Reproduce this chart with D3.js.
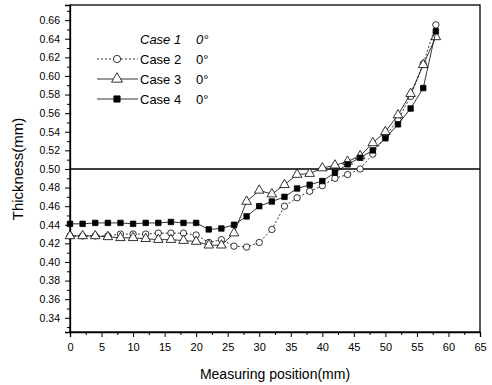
<!DOCTYPE html>
<html>
<head>
<meta charset="utf-8">
<script src="https://cdn.jsdelivr.net/npm/d3@7.9.0/dist/d3.min.js"></script>
<style>
  body { margin: 0; background: #fff; }
  svg { font-family: Arial, "Liberation Sans", sans-serif; }
</style>
</head>
<body>
<svg id="chart" width="492" height="385"></svg>
<script>
// measuring positions (mm)
const positions = d3.range(0, 59, 2);

// thickness (mm)
const case1 = 0.50;
const case2 = [0.428, 0.428, 0.428, 0.428, 0.430, 0.430, 0.430, 0.431, 0.431, 0.431,
               0.429, 0.421, 0.424, 0.417, 0.416, 0.421, 0.435, 0.460, 0.469, 0.476,
               0.482, 0.490, 0.494, 0.500, 0.516, 0.535, 0.553, 0.578, 0.613, 0.655];
const case3 = [0.428, 0.428, 0.428, 0.427, 0.426, 0.426, 0.425, 0.424, 0.424, 0.423,
               0.422, 0.418, 0.418, 0.431, 0.465, 0.477, 0.473, 0.483, 0.494, 0.495,
               0.501, 0.504, 0.508, 0.514, 0.528, 0.540, 0.558, 0.581, 0.612, 0.642];
const case4 = [0.441, 0.441, 0.442, 0.442, 0.442, 0.441, 0.442, 0.442, 0.443, 0.442,
               0.442, 0.435, 0.436, 0.440, 0.449, 0.460, 0.465, 0.470, 0.479, 0.483,
               0.487, 0.496, 0.505, 0.512, 0.520, 0.533, 0.548, 0.565, 0.587, 0.648];

const xTicks = d3.range(0, 66, 5);
const yTicks = d3.range(0.34, 0.661, 0.02);

const margin = { top: 5, right: 12, bottom: 53, left: 70 };
const width = 492, height = 385;

const svg = d3.select('#chart');

const x = d3.scaleLinear()
  .domain([0, 65])
  .range([margin.left, width - margin.right]);

const y = d3.scaleLinear()
  .domain([0.3247, 0.6763])
  .range([height - margin.bottom, margin.top]);

// frame
svg.append('rect')
  .attr('x', x(0)).attr('y', y.range()[1])
  .attr('width', x(65) - x(0))
  .attr('height', y.range()[0] - y.range()[1])
  .attr('fill', 'none').attr('stroke', '#000').attr('stroke-width', 1.3);

// x axis
svg.append('g')
  .attr('transform', `translate(0,${y.range()[0]})`)
  .call(d3.axisBottom(x).tickValues(d3.range(2.5, 65, 5)).tickSize(3).tickFormat(''))
  .call(g => g.select('.domain').remove());
svg.append('g')
  .attr('transform', `translate(0,${y.range()[0]})`)
  .call(d3.axisBottom(x).tickValues(xTicks).tickSize(5).tickPadding(6))
  .call(g => g.select('.domain').attr('stroke-width', 1.3))
  .call(g => g.selectAll('text').attr('font-size', 11).attr('fill', '#000'));

// y axis
svg.append('g')
  .attr('transform', `translate(${x(0)},0)`)
  .call(d3.axisLeft(y).tickValues(d3.range(0.33, 0.671, 0.02)).tickSize(3).tickFormat(''))
  .call(g => g.select('.domain').remove());
svg.append('g')
  .attr('transform', `translate(${x(0)},0)`)
  .call(d3.axisLeft(y).tickValues(yTicks).tickSize(5).tickPadding(5).tickFormat(d3.format('.2f')))
  .call(g => g.select('.domain').attr('stroke-width', 1.3))
  .call(g => g.selectAll('text').attr('font-size', 10.5).attr('fill', '#000'));

// axis titles
svg.append('text')
  .attr('x', x(32.5)).attr('y', 379)
  .attr('text-anchor', 'middle')
  .attr('font-size', 14)
  .text('Measuring position(mm)');

svg.append('text')
  .attr('transform', `translate(23,${y(0.50)}) rotate(-90)`)
  .attr('text-anchor', 'middle')
  .attr('font-size', 15)
  .text('Thickness(mm)');

// Case 1 reference line
svg.append('line')
  .attr('x1', x(0)).attr('x2', x(65))
  .attr('y1', y(case1)).attr('y2', y(case1))
  .attr('stroke', '#000').attr('stroke-width', 1.5);

const series = [
  { values: case2, marker: 'circle', dash: '2,2', fill: '#fff' },
  { values: case3, marker: 'triangle', dash: null, fill: '#fff' },
  { values: case4, marker: 'square', dash: null, fill: '#000' }
];

const line = d3.line()
  .x((d, i) => x(positions[i]))
  .y(d => y(d));

const symbolSize = { circle: 32, triangle: 40, square: 30 };
const symbolType = { circle: d3.symbolCircle, triangle: d3.symbolTriangle, square: d3.symbolSquare };

series.forEach(s => {
  svg.append('path')
    .datum(s.values)
    .attr('d', line)
    .attr('fill', 'none')
    .attr('stroke', '#000')
    .attr('stroke-width', 0.8)
    .attr('stroke-dasharray', s.dash);

  svg.append('g').selectAll('path')
    .data(s.values)
    .join('path')
    .attr('transform', (d, i) => `translate(${x(positions[i])},${y(d)})`)
    .attr('d', d3.symbol().type(symbolType[s.marker]).size(symbolSize[s.marker]))
    .attr('fill', s.fill)
    .attr('stroke', '#000')
    .attr('stroke-width', 0.8);
});

// legend
const legend = svg.append('g');
const legendRows = [
  { label: 'Case 1', italic: true, s: null },
  { label: 'Case 2', italic: false, s: series[0] },
  { label: 'Case 3', italic: false, s: series[1] },
  { label: 'Case 4', italic: false, s: series[2] }
];
legendRows.forEach((r, i) => {
  const ly = 39 + i * 20;
  if (r.s) {
    legend.append('line')
      .attr('x1', 97).attr('x2', 138)
      .attr('y1', ly).attr('y2', ly)
      .attr('stroke', '#000').attr('stroke-width', 0.8)
      .attr('stroke-dasharray', r.s.dash);
    legend.append('path')
      .attr('transform', `translate(117,${ly})`)
      .attr('d', d3.symbol().type(symbolType[r.s.marker]).size(symbolSize[r.s.marker] * 1.3))
      .attr('fill', r.s.fill)
      .attr('stroke', '#000')
      .attr('stroke-width', 0.8);
  }
  legend.append('text')
    .attr('x', 140).attr('y', ly + 5)
    .attr('font-size', 13)
    .attr('font-style', r.italic ? 'italic' : null)
    .text(r.label);
  legend.append('text')
    .attr('x', 196).attr('y', ly + 5)
    .attr('font-size', 13)
    .attr('font-style', r.italic ? 'italic' : null)
    .text('0°');
});
</script>
</body>
</html>
